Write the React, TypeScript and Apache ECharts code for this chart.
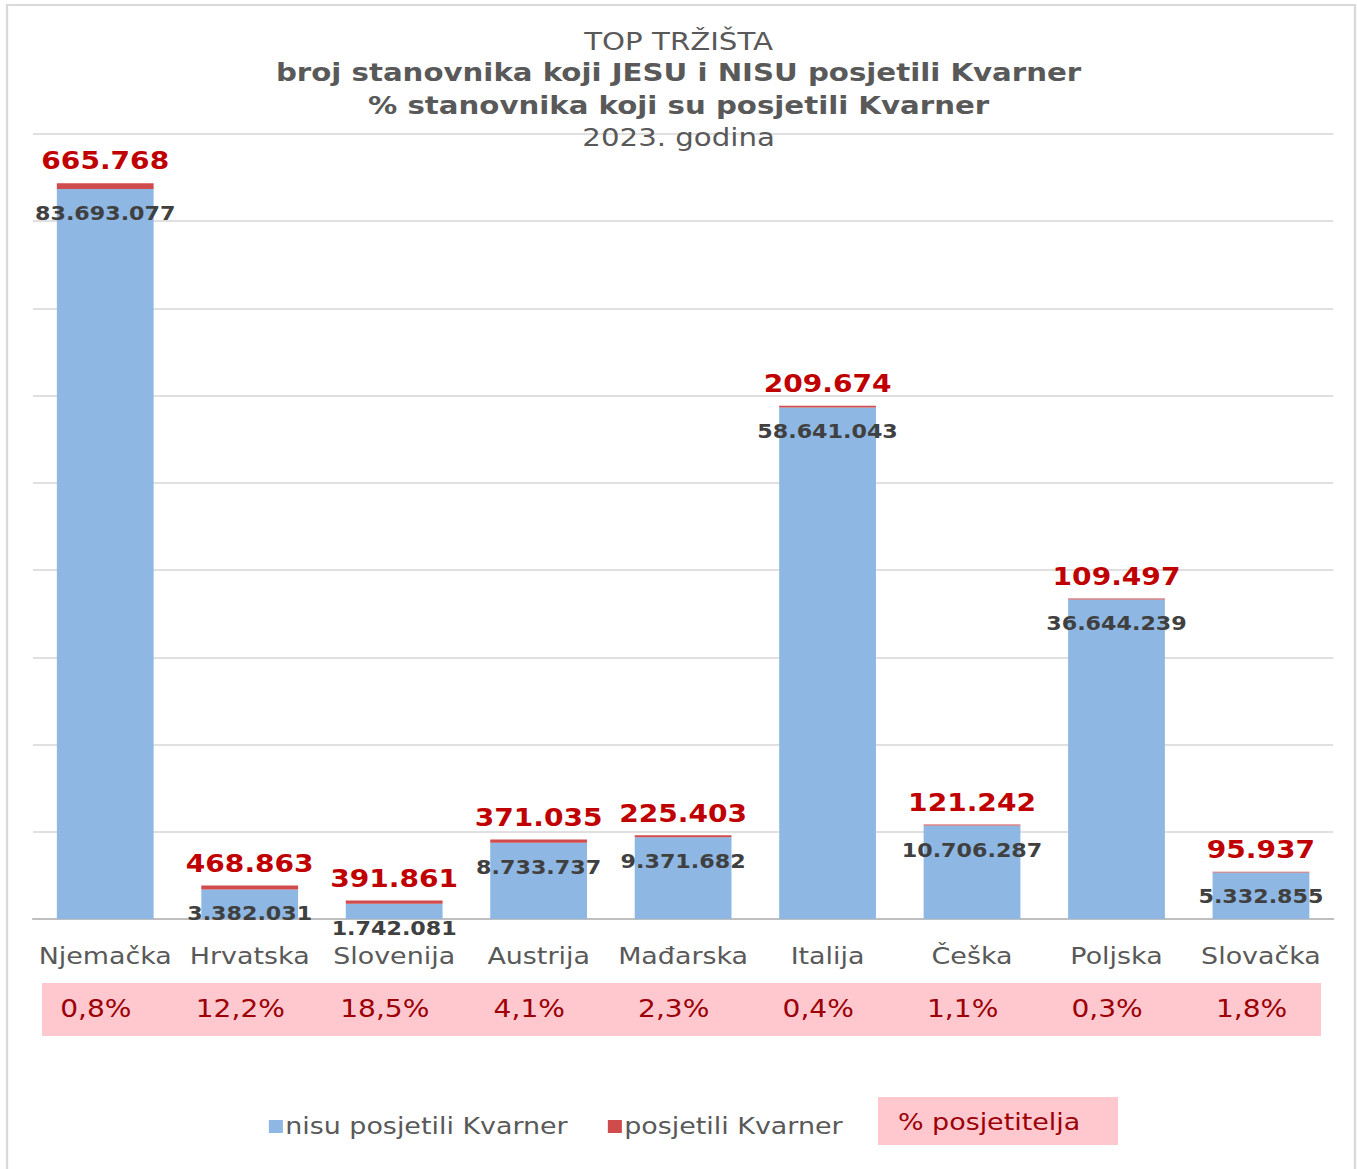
import React, { useEffect, useRef } from "react";
import * as echarts from "echarts";

const categories = ["Njemačka", "Hrvatska", "Slovenija", "Austrija", "Mađarska", "Italija", "Češka", "Poljska", "Slovačka"];
const notVisited = [83693077, 3382031, 1742081, 8733737, 9371682, 58641043, 10706287, 36644239, 5332855];
const visited = [665768, 468863, 391861, 371035, 225403, 209674, 121242, 109497, 95937];
const pctVisitors = ["0,8%", "12,2%", "18,5%", "4,1%", "2,3%", "0,4%", "1,1%", "0,3%", "1,8%"];
const titleLines = ["TOP TRŽIŠTA", "broj stanovnika koji JESU i NISU posjetili Kvarner", "% stanovnika koji su posjetili Kvarner", "2023. godina"];
const seriesNames = ["nisu posjetili Kvarner", "posjetili Kvarner"];
const pctLegend = "% posjetitelja";

const FONT = "'DejaVu Sans', Verdana, sans-serif";
const fmt = (n: number) => String(n).replace(/\B(?=(\d{3})+(?!\d))/g, ".");

// the reference picture is stretched horizontally; reproduce with a horizontal scale
const S = 1.17;
const W = 1357 / S;
const H = 1169;
const sx = (x: number) => x / S;

export default function App() {
  const ref = useRef<HTMLDivElement>(null);
  useEffect(() => {
    if (!ref.current) return;
    const chart = echarts.init(ref.current, null, { renderer: "svg" });
    const titleTops = [29, 60, 93, 125];
    chart.setOption({
      animation: false,
      backgroundColor: "#ffffff",
      textStyle: { fontFamily: FONT },
      title: titleLines.map((t, i) => ({
        text: t,
        left: "center",
        top: titleTops[i],
        padding: 0,
        textStyle: {
          fontFamily: FONT,
          fontSize: 25,
          fontWeight: i === 1 || i === 2 ? "bold" : "normal",
          color: "#595959",
        },
      })),
      legend: {
        left: sx(263),
        top: 1110,
        icon: "rect",
        itemWidth: 12,
        itemHeight: 13,
        itemGap: sx(40),
        textStyle: { fontFamily: FONT, fontSize: 23, color: "#595959", padding: [0, 0, 0, -3] },
        data: seriesNames,
      },
      grid: { left: sx(33), right: sx(24), top: 134, bottom: 250, containLabel: false },
      xAxis: [
        {
          type: "category",
          data: categories,
          axisLine: { lineStyle: { color: "#bfbfbf", width: 2 } },
          axisTick: { show: false },
          axisLabel: { color: "#595959", fontSize: 23, fontFamily: FONT, margin: 26, interval: 0 },
        },
        {
          type: "category",
          position: "bottom",
          data: categories,
          axisLine: { show: false },
          axisTick: { show: false },
          axisLabel: {
            color: "#9c0006",
            fontSize: 24,
            fontFamily: FONT,
            margin: 78,
            interval: 0,
            padding: [0, 16, 0, 0],
            formatter: (_v: string, i: number) => pctVisitors[i],
          },
        },
      ],
      yAxis: {
        type: "value",
        min: 0,
        max: 90000000,
        interval: 10000000,
        axisLabel: { show: false },
        axisLine: { show: false },
        axisTick: { show: false },
        splitLine: { lineStyle: { color: "#e0e0e0", width: 2 } },
      },
      series: [
        {
          name: seriesNames[0],
          type: "bar",
          stack: "total",
          barWidth: "67%",
          data: notVisited,
          itemStyle: { color: "#8EB8E3" },
          label: {
            show: true,
            position: "insideTop",
            distance: 15,
            color: "#404040",
            fontWeight: "bold",
            fontSize: 19,
            fontFamily: FONT,
            formatter: (p: any) => fmt(p.value),
          },
        },
        {
          name: seriesNames[1],
          type: "bar",
          stack: "total",
          data: visited,
          itemStyle: { color: "#D04B4B" },
          label: {
            show: true,
            position: "top",
            distance: 10,
            color: "#c00000",
            fontWeight: "bold",
            fontSize: 24,
            fontFamily: FONT,
            formatter: (p: any) => fmt(p.value),
          },
        },
      ],
      graphic: [
        {
          type: "rect",
          z: -10,
          silent: true,
          shape: { x: sx(7), y: 5, width: sx(1348), height: 1170 },
          style: { fill: "none", stroke: "#d9d9d9", lineWidth: 2 },
        },
        {
          type: "rect",
          z: -5,
          silent: true,
          shape: { x: sx(42), y: 983, width: sx(1279), height: 53 },
          style: { fill: "#ffc7ce" },
        },
        {
          type: "rect",
          silent: true,
          shape: { x: sx(878), y: 1097, width: sx(240), height: 48 },
          style: { fill: "#ffc7ce" },
        },
        {
          type: "text",
          silent: true,
          x: sx(898),
          y: 1122,
          style: {
            text: pctLegend,
            fill: "#9c0006",
            font: `23px ${FONT}`,
            textAlign: "left",
            textVerticalAlign: "middle",
          },
        },
      ],
    });
    return () => chart.dispose();
  }, []);
  return (
    <div style={{ position: "absolute", left: 0, top: 0, width: 1357, height: H, overflow: "hidden", background: "#fff" }}>
      <div
        ref={ref}
        style={{ width: W, height: H, transform: `scaleX(${S})`, transformOrigin: "0 0" }}
      />
    </div>
  );
}
